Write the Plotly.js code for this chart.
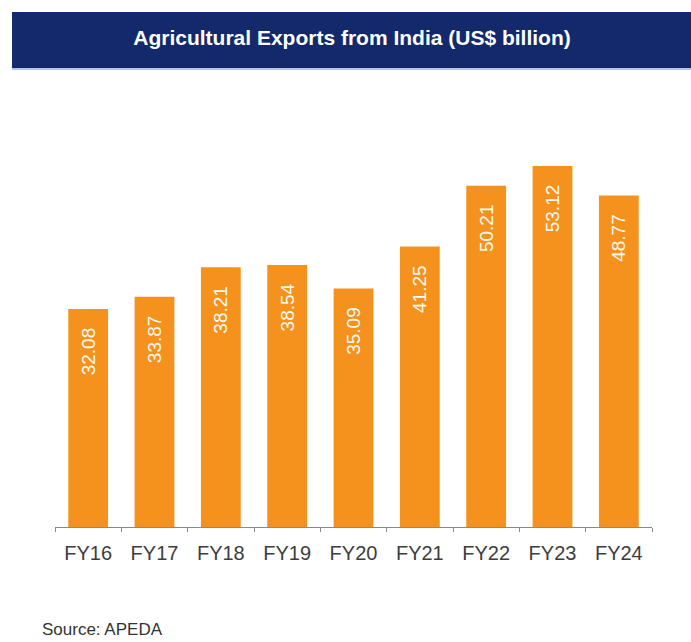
<!DOCTYPE html>
<html>
<head>
<meta charset="utf-8">
<script src="https://cdn.plot.ly/plotly-3.0.1.min.js"></script>
<style>html,body{margin:0;padding:0;background:#fff;}#chart{width:691px;height:642px;}</style>
</head>
<body>
<div id="chart"></div>
<script>
var categories = ["FY16", "FY17", "FY18", "FY19", "FY20", "FY21", "FY22", "FY23", "FY24"];
var exportsUSD = [32.08, 33.87, 38.21, 38.54, 35.09, 41.25, 50.21, 53.12, 48.77];
var chartTitle = "Agricultural Exports from India (US$ billion)";
var sourceNote = "Source: APEDA";

var W = 691, H = 642;
var mL = 55, mR = 39, mT = 130, mB = 115;
var pw = W - mL - mR, ph = H - mT - mB;
function px(x){ return (x - mL) / pw; }
function py(y){ return (H - mB - y) / ph; }

var trace = {
  type: "bar",
  x: categories,
  y: exportsUSD,
  marker: {color: "#F5921E"},
  text: exportsUSD.map(function(v){ return v.toFixed(2) + "\u00a0\u00a0\u00a0"; }),
  textposition: "inside",
  insidetextanchor: "end",
  textangle: -90,
  insidetextfont: {family: "Liberation Sans, Arial, sans-serif", size: 19, color: "#fffaf0"},
  hoverinfo: "x+y"
};

var layout = {
  width: W, height: H,
  margin: {l: mL, r: mR, t: mT, b: mB},
  paper_bgcolor: "#ffffff",
  plot_bgcolor: "#ffffff",
  showlegend: false,
  bargap: 0.4,
  title: {
    text: "<b>" + chartTitle + "</b>",
    font: {family: "Liberation Sans, Arial, sans-serif", size: 21, color: "#ffffff"},
    x: 352 / W, xanchor: "center",
    y: 1 - 38 / H, yanchor: "middle"
  },
  xaxis: {
    type: "category",
    showline: true, linecolor: "#8a8a8a", linewidth: 1,
    ticks: "outside", tickson: "boundaries", ticklen: 4, tickcolor: "#8a8a8a",
    ticklabelstandoff: 8,
    tickfont: {family: "Liberation Sans, Arial, sans-serif", size: 20, color: "#3d3d3d"},
    showgrid: false, zeroline: false, fixedrange: true
  },
  yaxis: {
    range: [0, 58.4],
    visible: false, showgrid: false, zeroline: false, fixedrange: true
  },
  shapes: [
    {type: "rect", xref: "paper", yref: "paper", x0: px(12), x1: px(691), y0: py(68), y1: py(12),
     fillcolor: "#13296b", line: {width: 0}, layer: "below"},
    {type: "line", xref: "paper", yref: "paper", x0: px(12), x1: px(691), y0: py(69), y1: py(69),
     line: {color: "#b5c3e3", width: 2}}
  ],
  annotations: [
    {text: sourceNote, xref: "paper", yref: "paper", x: px(40), y: py(629), xanchor: "left", yanchor: "middle",
     showarrow: false, font: {family: "Liberation Sans, Arial, sans-serif", size: 17, color: "#333333"}}
  ]
};

Plotly.newPlot("chart", [trace], layout, {displayModeBar: false, staticPlot: true});
</script>
</body>
</html>
